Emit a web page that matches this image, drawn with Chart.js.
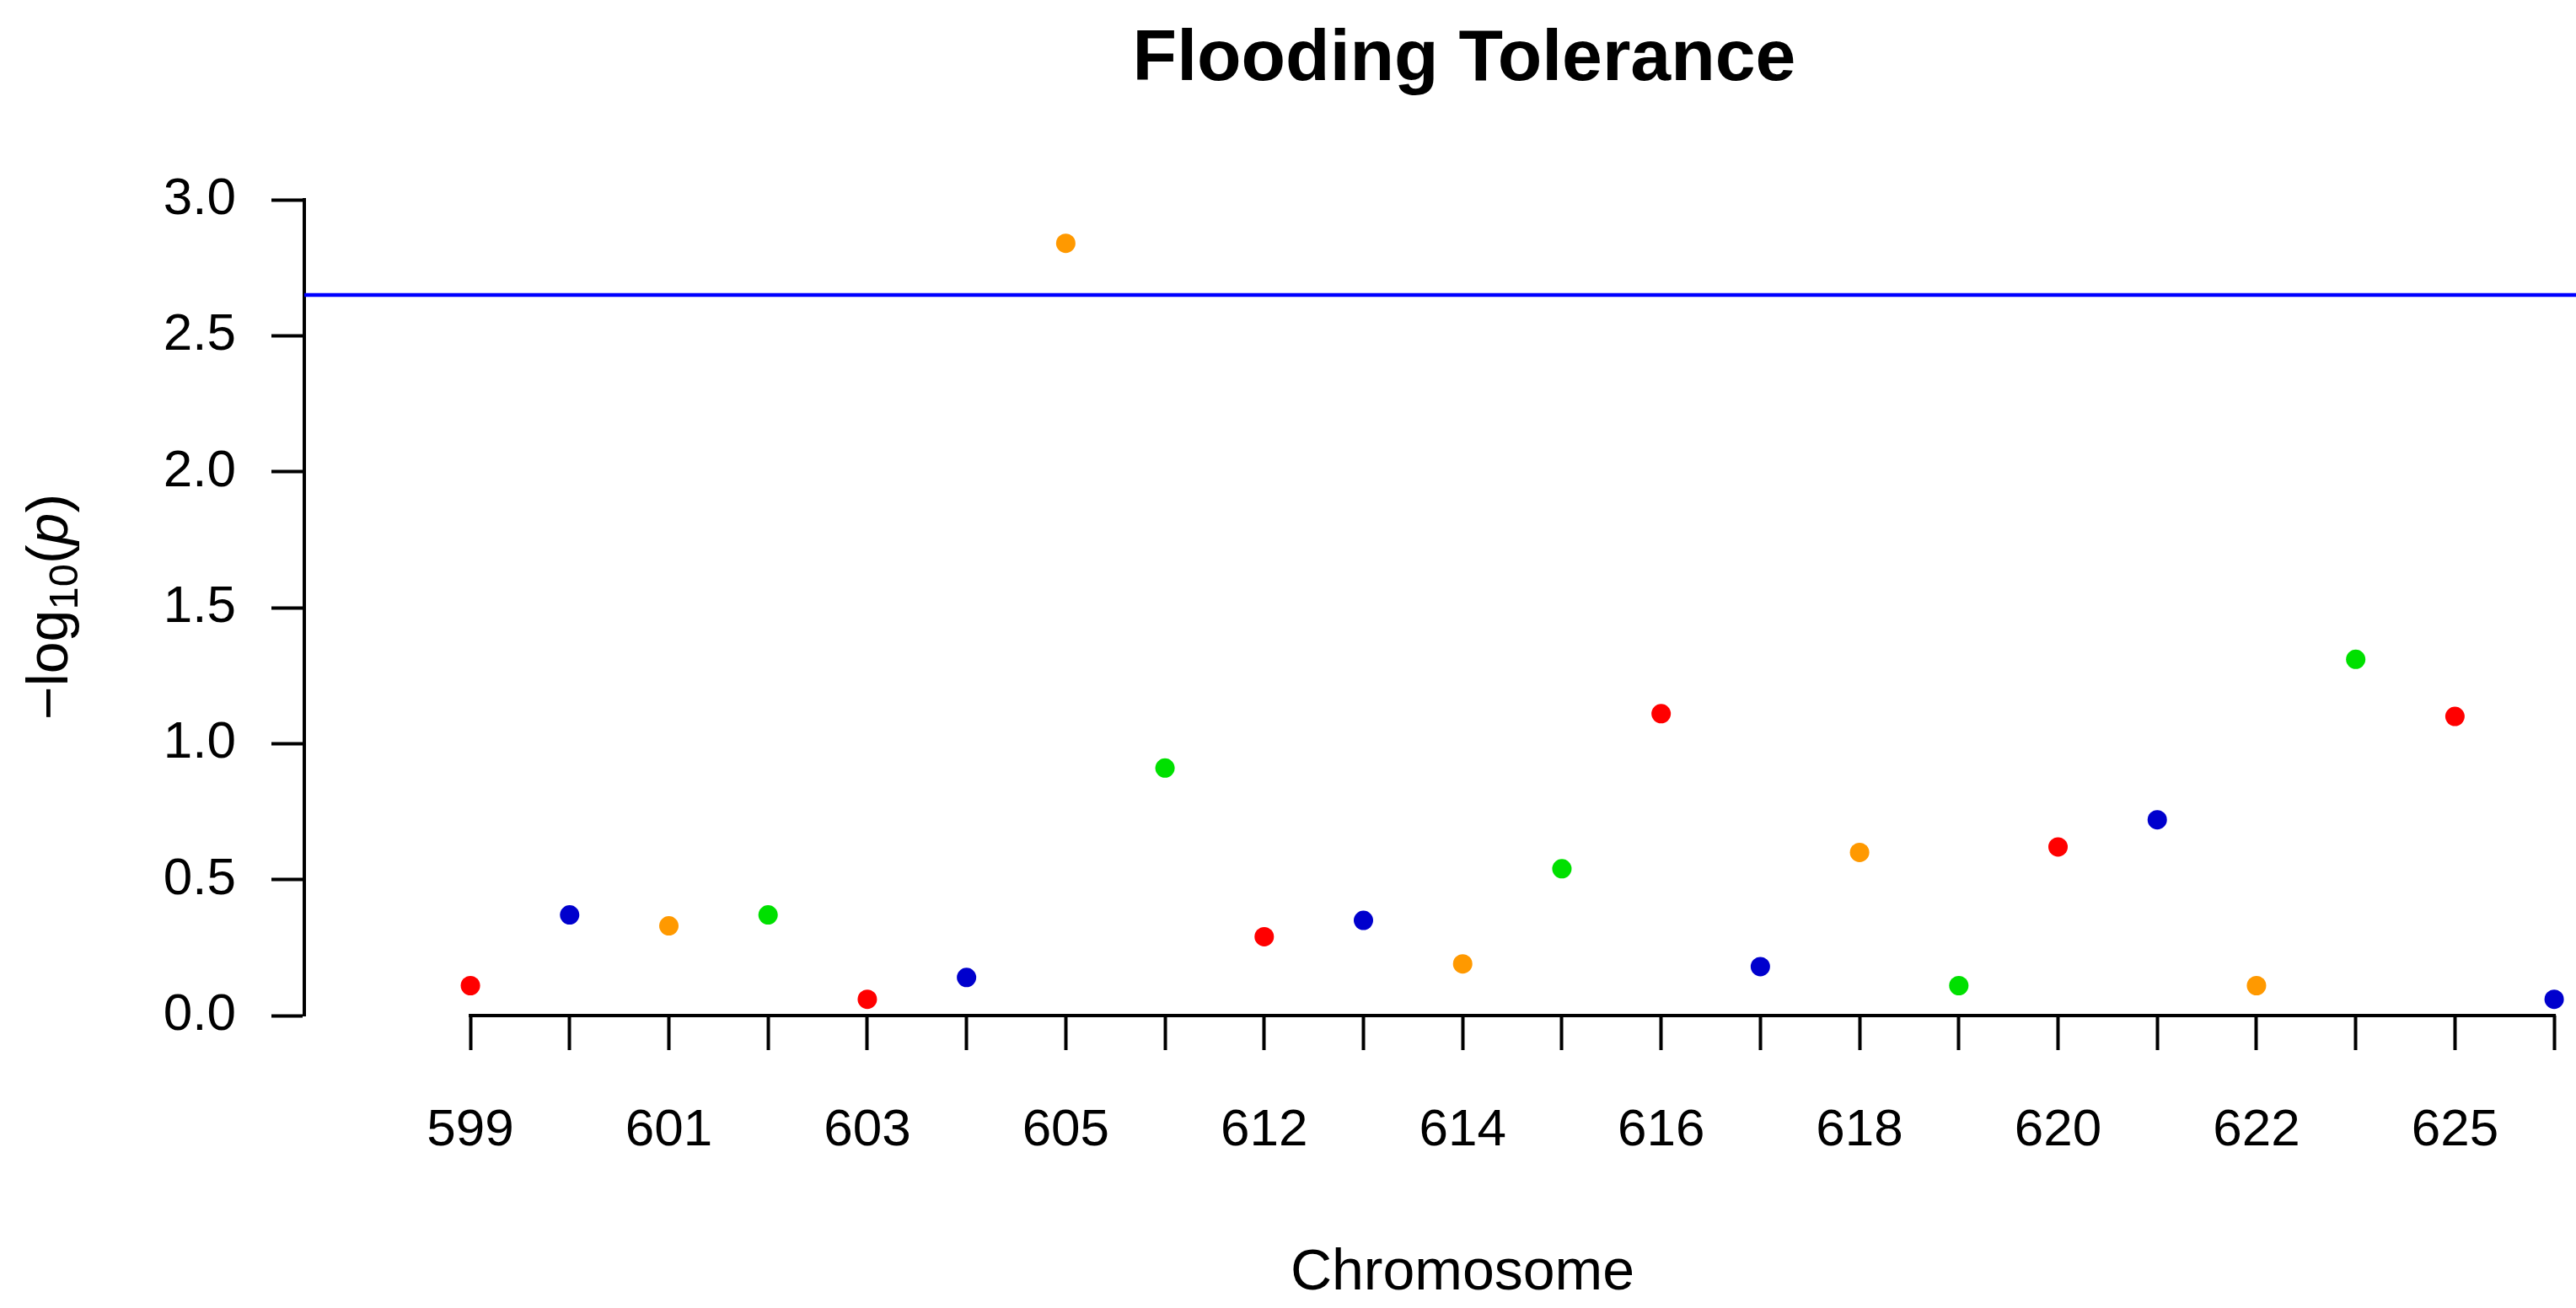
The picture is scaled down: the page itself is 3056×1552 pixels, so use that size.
<!DOCTYPE html>
<html>
<head>
<meta charset="utf-8">
<title>Flooding Tolerance</title>
<script src="https://cdn.jsdelivr.net/npm/chart.js@4.4.1/dist/chart.umd.min.js"></script>
<style>
  html, body { margin: 0; padding: 0; background: #fff; }
  canvas { display: block; }
</style>
</head>
<body>
<canvas id="manhattan" width="3056" height="1552"></canvas>
<script>
// chromosome ids, one point each (only every other id is labelled on the axis)
const chromosomes = ["599", "600", "601", "602", "603", "604", "605", "611", "612", "613", "614",
                     "615", "616", "617", "618", "619", "620", "621", "622", "623", "625", "626"];
// -log10(p) per chromosome
const logP = [0.11, 0.37, 0.33, 0.37, 0.06, 0.14, 2.84, 0.91, 0.29, 0.35, 0.19,
              0.54, 1.11, 0.18, 0.60, 0.11, 0.62, 0.72, 0.11, 1.31, 1.10, 0.06];
const yTicks = [0, 0.5, 1, 1.5, 2, 2.5, 3];
const threshold = 2.65;

const palette = ["#ff0000", "#0000cd", "#ff9900", "#00e000"];
const FONT = "'Liberation Sans', Arial, sans-serif";

// x range reaches a bit left of the first chromosome so the y axis sits apart
const X_MIN = -1.674;
const X_MAX = 21.22;

const extraText = {
  id: "extraText",
  afterDraw(chart) {
    const { ctx, scales } = chart;
    const xs = scales.x, ys = scales.y;

    // x axis line only spans the chromosomes, like R's axis()
    ctx.save();
    ctx.strokeStyle = "#000";
    ctx.lineWidth = 4;
    ctx.lineCap = "square";
    ctx.beginPath();
    ctx.moveTo(xs.getPixelForValue(0), ys.getPixelForValue(0));
    ctx.lineTo(xs.getPixelForValue(chromosomes.length - 1), ys.getPixelForValue(0));
    ctx.stroke();

    ctx.fillStyle = "#000";
    ctx.textAlign = "center";
    ctx.textBaseline = "alphabetic";
    ctx.font = "bold 86px " + FONT;
    ctx.fillText("Flooding Tolerance", 1737, 95);

    ctx.font = "68px " + FONT;
    ctx.fillText("Chromosome", 1735, 1530);

    // -log10(p) with subscript and italic p
    const parts = [
      { t: "\u2212", f: "68px " + FONT, dy: 0 },
      { t: "log", f: "68px " + FONT, dy: 0 },
      { t: "10", f: "49px " + FONT, dy: 12 },
      { t: "(", f: "68px " + FONT, dy: 0 },
      { t: "p", f: "italic 68px " + FONT, dy: 0 },
      { t: ")", f: "68px " + FONT, dy: 0 }
    ];
    let total = 0;
    parts.forEach(p => { ctx.font = p.f; p.w = ctx.measureText(p.t).width; total += p.w; });
    ctx.translate(80, 720);
    ctx.rotate(-Math.PI / 2);
    ctx.textAlign = "left";
    let cx = -total / 2;
    parts.forEach(p => {
      ctx.font = p.f;
      ctx.fillText(p.t, cx, p.dy);
      cx += p.w;
    });
    ctx.restore();
  }
};

new Chart(document.getElementById("manhattan"), {
  type: "scatter",
  data: {
    datasets: [
      {
        data: logP.map((v, i) => ({ x: i, y: v })),
        pointBackgroundColor: logP.map((_, i) => palette[i % palette.length]),
        pointBorderWidth: 0,
        pointRadius: 11.5,
        clip: false,
        order: 1
      },
      {
        type: "line",
        data: [{ x: X_MIN, y: threshold }, { x: X_MAX, y: threshold }],
        borderColor: "#0000ff",
        borderWidth: 4.5,
        pointRadius: 0,
        showLine: true,
        order: 2
      }
    ]
  },
  options: {
    responsive: false,
    devicePixelRatio: 1,
    animation: false,
    layout: { autoPadding: false, padding: { top: 237, left: 0, right: 0, bottom: 0 } },
    plugins: {
      legend: { display: false },
      tooltip: { enabled: false },
      title: { display: false }
    },
    scales: {
      x: {
        type: "linear",
        min: X_MIN,
        max: X_MAX,
        afterBuildTicks: s => { s.ticks = chromosomes.map((_, i) => ({ value: i })); },
        afterFit: s => { s.height = 347; s.paddingLeft = 0; s.paddingRight = 0; },
        border: { display: false },
        grid: { drawOnChartArea: false, tickLength: 41, tickWidth: 4, tickColor: "#000" },
        ticks: {
          autoSkip: false,
          maxRotation: 0,
          padding: 59,
          color: "#000",
          font: { family: FONT, size: 62 },
          callback: v => (v % 2 === 0 ? chromosomes[v] : "")
        }
      },
      y: {
        min: 0,
        max: 3,
        afterBuildTicks: s => { s.ticks = yTicks.map(v => ({ value: v })); },
        afterFit: s => { s.width = 361; s.paddingTop = 0; s.paddingBottom = 0; },
        border: { display: true, color: "#000", width: 4 },
        grid: { drawOnChartArea: false, tickLength: 39, tickWidth: 4, tickColor: "#000" },
        ticks: {
          padding: 42,
          color: "#000",
          font: { family: FONT, size: 62 },
          callback: v => v.toFixed(1)
        }
      }
    }
  },
  plugins: [extraText]
});
</script>
</body>
</html>
